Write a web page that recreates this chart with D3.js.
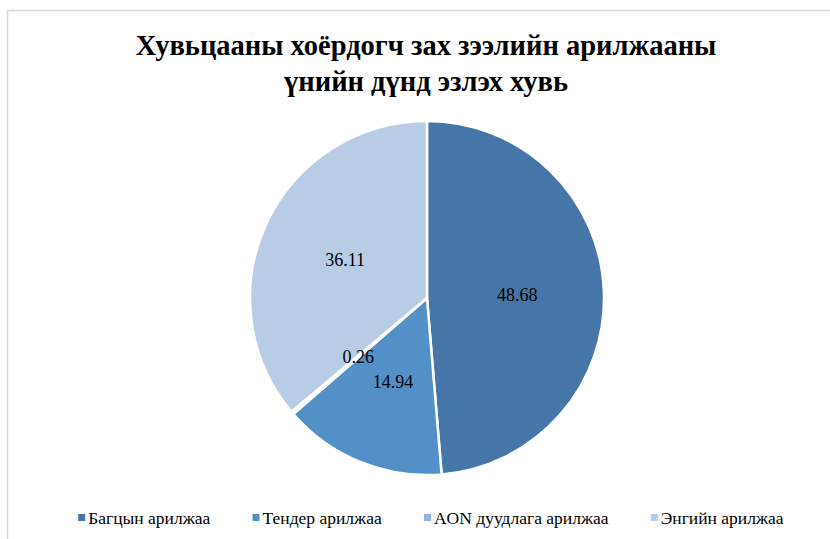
<!DOCTYPE html>
<html>
<head>
<meta charset="utf-8">
<script src="https://cdn.jsdelivr.net/npm/d3@7"></script>
<style>
  body { margin: 0; background: #fff; }
  svg { display: block; }
  text { font-family: "Liberation Serif", "Times New Roman", serif; fill: #000; }
</style>
</head>
<body>
<svg id="chart"></svg>
<script>
const W = 830, H = 539

// Data
const titleLines = ['Хувьцааны хоёрдогч зах зээлийн арилжааны', 'үнийн дүнд эзлэх хувь']
const categories = ['Багцын арилжаа', 'Тендер арилжаа', 'AON дуудлага арилжаа', 'Энгийн арилжаа']
const values = [48.68, 14.94, 0.26, 36.11]
const colors = ['#4676a8', '#5490c8', '#93b6e0', '#b8cce6']

const svg = d3.select('#chart').attr('width', W).attr('height', H)

// Chart frame
svg.append('path')
    .attr('d', `M7.5 ${H} L7.5 10.5 L${W} 10.5`)
    .attr('fill', 'none')
    .attr('stroke', '#d9d9d9')
    .attr('stroke-width', 1.5)

// Title
svg.append('text')
    .attr('text-anchor', 'middle')
    .style('font-weight', 'bold')
    .style('font-size', '28.5px')
    .selectAll('tspan').data(titleLines).join('tspan')
    .attr('x', 426)
    .attr('y', (d, i) => 55 + i * 36)
    .text(d => d)

// Pie
const cx = 427, cy = 298, r = 177
const pie = d3.pie().sort(null)
const arc = d3.arc().innerRadius(0).outerRadius(r)
const labelArc = d3.arc().innerRadius(r * 0.51).outerRadius(r * 0.51)
const arcs = pie(values)

const g = svg.append('g').attr('transform', `translate(${cx},${cy})`)
g.selectAll('path.slice').data(arcs).join('path').classed('slice', true)
    .attr('d', arc)
    .attr('fill', (d, i) => colors[i])
    .attr('stroke', '#fff')
    .attr('stroke-width', 2.5)
    .attr('stroke-linejoin', 'round')

g.selectAll('text.lbl').data(arcs).join('text').classed('lbl', true)
    .attr('transform', d => `translate(${labelArc.centroid(d)})`)
    .attr('text-anchor', 'middle')
    .attr('dy', '0.35em')
    .style('font-size', '18px')
    .text(d => d.data.toFixed(2))

// Legend
const legend = svg.append('g').attr('transform', 'translate(0,518)')
const items = legend.selectAll('g').data(categories).join('g')
items.append('rect')
    .attr('y', -4).attr('width', 7).attr('height', 7)
    .attr('fill', (d, i) => colors[i])
items.append('text')
    .attr('x', 10)
    .attr('dy', '0.33em')
    .style('font-size', '17.5px')
    .text(d => d)
const widths = items.nodes().map(n => n.getBBox().width)
const gap = 42
const total = d3.sum(widths) + gap * (widths.length - 1)
let x0 = 431 - total / 2
items.attr('transform', (d, i) => {
    const t = `translate(${x0},0)`
    x0 += widths[i] + gap
    return t
})
</script>
</body>
</html>
